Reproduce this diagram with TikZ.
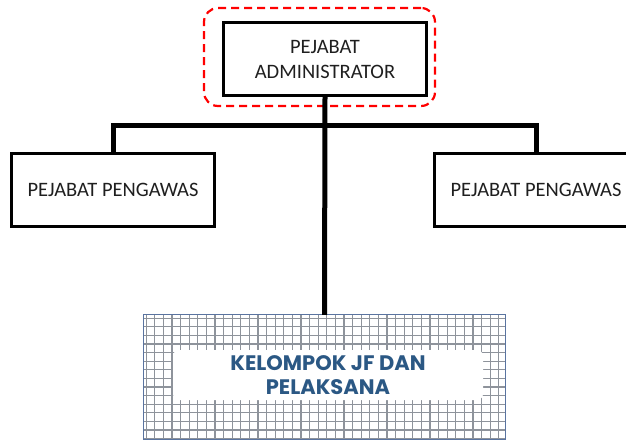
\documentclass[tikz,border=0pt]{standalone}
\usepackage{fontspec}
\setmainfont{Carlito}
\newfontfamily\jffont{Poppins}
\usetikzlibrary{positioning}
\definecolor{jfblue}{HTML}{2B5884}
\definecolor{gridgray}{HTML}{8E939B}
\definecolor{edgeblue}{HTML}{5A74A0}
\tikzstyle{box}   = [draw, line width=2.8pt, minimum width=203pt, minimum height=73pt, align=center, text=black!88, font=\fontsize{20.5}{25}\selectfont]
\tikzstyle{hl}    = [draw=red, line width=2.2pt, dash pattern=on 8pt off 5pt, rounded corners=14pt, minimum width=231pt, minimum height=98pt]
\tikzstyle{grp}   = [fill=white, minimum width=362pt, minimum height=124pt]
\tikzstyle{lbl}   = [fill=white, rounded corners=6pt, minimum width=310pt, minimum height=50pt, align=center, text=jfblue, font=\jffont\bfseries\fontsize{21}{24.5}\selectfont]
\tikzstyle{conn}  = [draw, line width=5pt]

\begin{document}
\begin{tikzpicture}[x=1pt, y=-1pt]
\useasboundingbox (0,0) rectangle (626,442);

% nodes
\node [hl]              at ( 319.5,  57   ) (frame) {};
\node [box]             at ( 325  ,  59   ) (adm)   {PEJABAT\\ADMINISTRATOR};
\node [box]             at ( 113  , 190   ) (pwl)   {PEJABAT PENGAWAS};
\node [box]             at ( 536  , 190   ) (pwr)   {PEJABAT PENGAWAS};
\node [grp]             at ( 324.5, 377   ) (kel)   {};
\coordinate             (hub) at ( 325, 125 );

% grid of the group box
\begin{scope}
  \clip (kel.south west) rectangle (kel.north east);
  \draw [gridgray, line width=1.2pt, step=8.6pt] (kel.south west) grid (kel.north east);
\end{scope}
\draw [edgeblue, line width=1.3pt] (kel.south west) rectangle (kel.north east);
\node [lbl]             at ( 328  , 375   ) (jf)    {KELOMPOK JF DAN\\PELAKSANA};

% edges
\path [conn] (adm.south) -- (kel.north);
\path [conn] (pwl.north) |- (hub) -| (pwr.north);

\end{tikzpicture}
\end{document}
